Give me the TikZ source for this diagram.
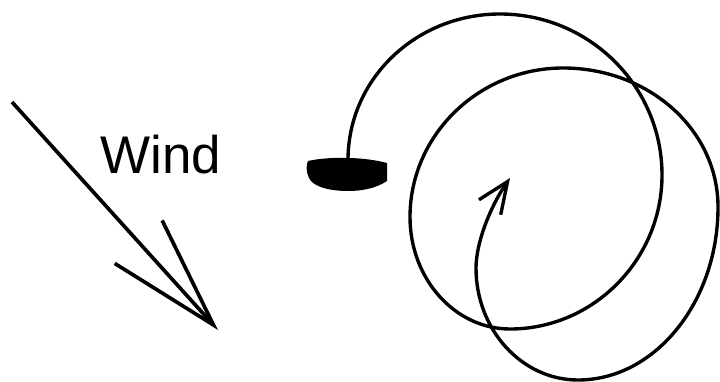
\documentclass[tikz,border=0pt]{standalone}
\usepackage{fontspec}
\setmainfont{Liberation Sans}
\usepackage{tikz}
\usetikzlibrary{arrows.meta, positioning}
\tikzstyle{arrow} = [line width=2.6pt, -{Straight Barb[length=2.8cm, width=1.6cm, line width=2.6pt]}]

\begin{document}
\begin{tikzpicture}[x=0.025cm, y=-0.025cm,
    label/.style={inner sep=0pt, font=\fontsize{37.7}{40}\selectfont},
    track/.style={line width=2.4pt, line cap=round,
                  -{Straight Barb[length=0.78cm, width=0.66cm, line width=2.4pt]}},
    hull/.style={fill=black}]

  \useasboundingbox (0,0) rectangle (720,381);

  \coordinate (windtail) at (12,102);
  \coordinate (windtip)  at (218,330);
  \node[label, anchor=base west] (wind) at (100,173) {Wind};
  \draw[arrow] (windtail) -- (windtip);

  \fill[hull] (308,161) .. controls (330,156) and (365,157) .. (387,163)
    -- (387,181) .. controls (375,189) and (360,191) .. (348,191)
    .. controls (330,191) and (313,187) .. (309,178)
    .. controls (306,172) and (306,165) .. cycle;
  \coordinate (mast) at (348,160);
  \coordinate (turnend) at (510,178);

  \draw[track] (mast)
    .. controls (348,79) and (416,14) .. (500,14)
    .. controls (589,14) and (662,86) .. (662,175)
    .. controls (662,260) and (593,329) .. (510,329)
    .. controls (455,329) and (410,279) .. (410,217)
    .. controls (410,135) and (479,68) .. (563,68)
    .. controls (649,68) and (718,130) .. (718,207)
    .. controls (718,302) and (655,380) .. (578,380)
    .. controls (522,380) and (476,330) .. (476,268)
    .. controls (476,243) and (490,207) .. (turnend);
\end{tikzpicture}
\end{document}
